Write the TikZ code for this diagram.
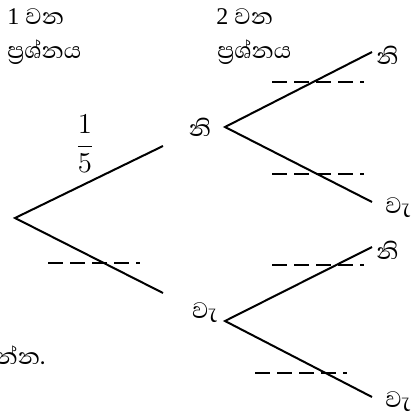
\documentclass[tikz,border=0pt]{standalone}
\usepackage{fontspec}
\setmainfont{Liberation Serif}
\newfontfamily\sinhalafont[Script=Sinhala,Scale=1.2]{Abhaya Libre}
\usetikzlibrary{positioning}
\begin{document}
\begin{tikzpicture}[x=0.5pt, y=-0.5pt, font=\fontsize{12}{14}\selectfont,
  branch/.style={line width=1pt},
  blank/.style={line width=0.6pt, dash pattern=on 7.5pt off 3.5pt},
  lbl/.style={inner sep=1pt, font=\fontsize{12}{14}\sinhalafont}]
\useasboundingbox (0,0) rectangle (412,412);
% column headers
\node[anchor=west, inner sep=0pt] (h1) at (7,17) {1 {\sinhalafont වන}};
\node[anchor=west, inner sep=0pt] (q1) at (7,52) {\sinhalafont ප්^^^^200dරශ්නය};
\node[anchor=west, inner sep=0pt] (h2) at (216,17) {2 {\sinhalafont වන}};
\node[anchor=west, inner sep=0pt] (q2) at (217,52) {\sinhalafont ප්^^^^200dරශ්නය};
% first question
\coordinate (r) at (15,218);
\coordinate (a1) at (163,146);
\coordinate (a2) at (163,293);
\draw[branch] (a1) -- (r) -- (a2);
\node (p1) at (85,144) {\fontsize{15}{17}\selectfont$\displaystyle\frac{1}{5}$};
% second question
\node[lbl] (y) at (200,127) {නි};
\node[lbl] (n) at (205,313) {වැ};
\coordinate (y0) at (225,127);
\coordinate (n0) at (225,321);
\coordinate (yy) at (372,52);
\coordinate (yn) at (372,202);
\coordinate (ny) at (372,247);
\coordinate (nn) at (372,397);
\draw[branch] (yy) -- (y0) -- (yn);
\draw[branch] (ny) -- (n0) -- (nn);
\node[lbl, anchor=west] (yyl) at (374,55) {නි};
\node[lbl, anchor=west] (ynl) at (383,208) {වැ};
\node[lbl, anchor=west] (nyl) at (374,250) {නි};
\node[lbl, anchor=west] (nnl) at (383,402) {වැ};
% blanks
\foreach \x/\y in {48/263, 272/82, 272/174, 272/265, 255/373}
  \draw[blank] (\x,\y) -- ++(92,0);
\node[lbl, anchor=east] (t) at (48,355) {න්න.};
\end{tikzpicture}
\end{document}
